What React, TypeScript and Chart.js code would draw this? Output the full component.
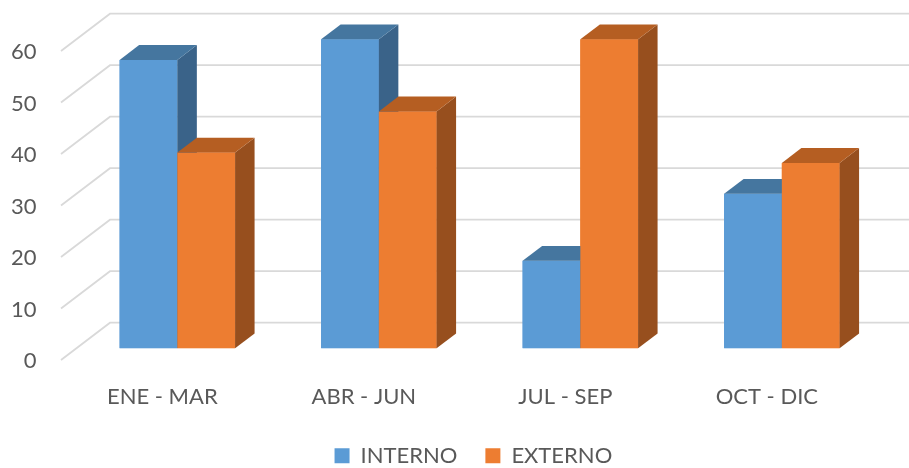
import React, { useEffect, useRef } from 'react';
import { Chart, registerables } from 'chart.js';

Chart.register(...registerables);

const categories = ['ENE - MAR', 'ABR - JUN', 'JUL - SEP', 'OCT - DIC'];
const seriesNames = ['INTERNO', 'EXTERNO'];
const interno = [56, 60, 17, 30];
const externo = [38, 46, 60, 36];
const yMin = 0;
const yMax = 60;
const yStep = 10;

const FONT = 'Lato';
const TEXT = '#595959';
const GRID = '#D9D9D9';

// oblique 3D offsets
const BAR_DX = 19.5;
const BAR_DY = -14.8;
const FRONT_DX = -15.6;
const FRONT_DY = 11.7;
const BACK_DX = 33.4;
const BACK_DY = -25.6;

const LEGEND_CENTER_X = 473.4;
const LEGEND_ITEM_TOP = 444.8;

const threeD = {
  id: 'threeD',
  afterLayout(chart: any) {
    const lg = chart.legend;
    if (!lg || !lg.lineWidths) return;
    const P = lg.options.labels.padding;
    const lw = lg.lineWidths[0];
    const start = (lg.left + P + lg.right - lw) / 2;
    const center = start + (lw - P) / 2;
    const sx = LEGEND_CENTER_X - center;
    const sy = LEGEND_ITEM_TOP - (lg.top + P);
    lg.left += sx; lg.right += sx;
    lg.top += sy; lg.bottom += sy;
  },
  beforeDatasetsDraw(chart: any) {
    const { ctx, chartArea } = chart;
    const y = chart.scales.y;
    ctx.save();
    ctx.strokeStyle = GRID;
    ctx.lineWidth = 1.8;
    y.ticks.forEach((t: any) => {
      const py = y.getPixelForValue(t.value);
      const x0 = chartArea.left;
      ctx.beginPath();
      ctx.moveTo(x0 + FRONT_DX, py + FRONT_DY);
      ctx.lineTo(x0 + BACK_DX, py + BACK_DY);
      ctx.lineTo(chart.width, py + BACK_DY);
      ctx.stroke();
    });
    ctx.restore();
  },
  afterDatasetsDraw(chart: any) {
    const { ctx } = chart;
    const poly = (pts: number[][]) => {
      ctx.beginPath();
      ctx.moveTo(pts[0][0], pts[0][1]);
      for (let i = 1; i < pts.length; i++) ctx.lineTo(pts[i][0], pts[i][1]);
      ctx.closePath();
      ctx.fill();
    };
    ctx.save();
    // redraw in dataset order so the right-hand series sits in front
    chart.data.datasets.forEach((ds: any, i: number) => {
      const meta = chart.getDatasetMeta(i);
      meta.data.forEach((el: any) => {
        el.draw(ctx);
        const { x, y, base, width } = el.getProps(['x', 'y', 'base', 'width'], true);
        const l = x - width / 2;
        const r = x + width / 2;
        ctx.fillStyle = ds.sideColor;
        poly([[r, y], [r + BAR_DX, y + BAR_DY], [r + BAR_DX, base + BAR_DY], [r, base]]);
        ctx.fillStyle = ds.topColor;
        poly([[l, y], [l + BAR_DX, y + BAR_DY], [r + BAR_DX, y + BAR_DY], [r, y]]);
      });
    });
    ctx.restore();
  },
};

export default function App() {
  const ref = useRef<HTMLCanvasElement>(null);
  useEffect(() => {
    document.body.style.margin = '0';
    Chart.defaults.font.family = FONT;
    Chart.defaults.color = TEXT;
    const chart = new Chart(ref.current as HTMLCanvasElement, {
      type: 'bar',
      data: {
        labels: categories,
        datasets: [
          {
            label: seriesNames[0],
            data: interno,
            backgroundColor: '#5B9BD5',
            borderWidth: 0,
            topColor: '#45769F',
            sideColor: '#3A6389',
          } as any,
          {
            label: seriesNames[1],
            data: externo,
            backgroundColor: '#ED7D31',
            borderWidth: 0,
            topColor: '#B55E22',
            sideColor: '#974F1E',
          } as any,
        ],
      },
      options: {
        responsive: false,
        animation: false,
        layout: { padding: { top: 39.3, right: 26.4, left: 0, bottom: 0 } },
        datasets: { bar: { categoryPercentage: 0.573, barPercentage: 1 } },
        scales: {
          x: {
            offset: true,
            grid: { display: false, drawTicks: false },
            border: { display: false },
            ticks: {
              font: { size: 22 },
              color: TEXT,
              labelOffset: -15,
              padding: 35,
              maxRotation: 0,
              autoSkip: false,
            },
            afterFit: (s: any) => {
              const lh = s.chart.legend ? s.chart.legend.height : 0;
              s.height = s.chart.height - 348.3 - lh;
              s.paddingLeft = 0;
              s.paddingRight = 0;
            },
          },
          y: {
            min: yMin,
            max: yMax,
            grid: { display: false, drawTicks: false },
            border: { display: false },
            ticks: {
              stepSize: yStep,
              font: { size: 22 },
              color: TEXT,
              padding: 40,
              labelOffset: 13,
            },
            afterFit: (s: any) => {
              s.width = 76.6;
              s.paddingTop = 0;
              s.paddingBottom = 0;
            },
          },
        },
        plugins: {
          legend: {
            position: 'bottom',
            labels: {
              boxWidth: 15,
              boxHeight: 15,
              padding: 28,
              font: { size: 22 },
              color: TEXT,
            },
          },
          tooltip: { enabled: false },
        },
      },
      plugins: [threeD],
    });
    return () => chart.destroy();
  }, []);
  return (
    <div style={{ width: 909, height: 468 }}>
      <canvas ref={ref} width={909} height={468} style={{ display: 'block' }} />
    </div>
  );
}
